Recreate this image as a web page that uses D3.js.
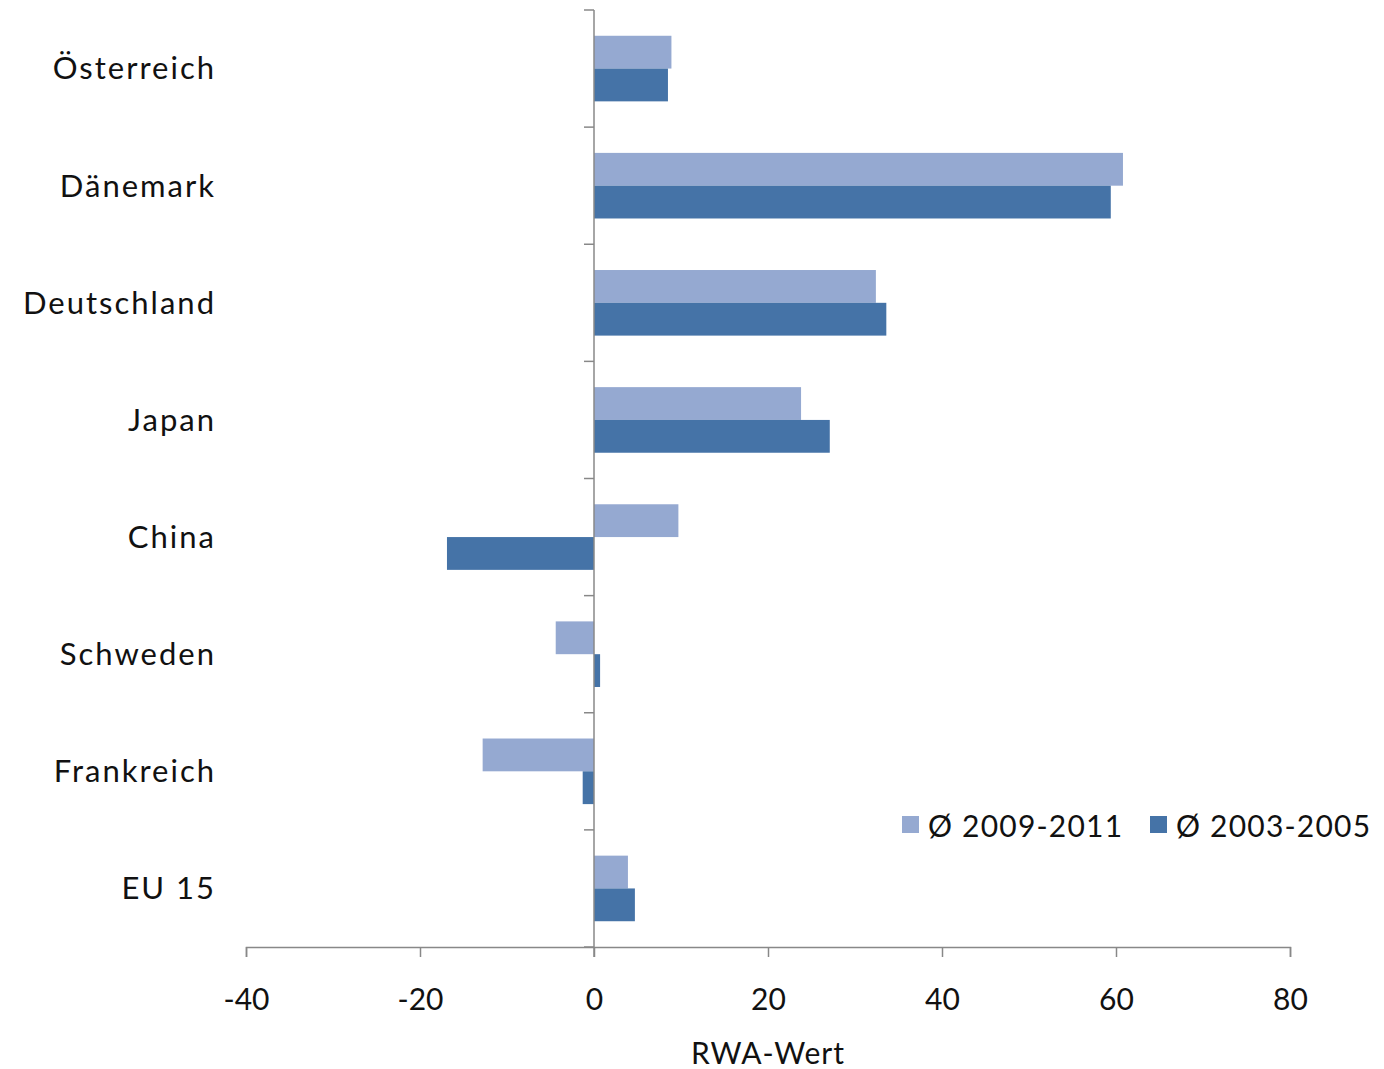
<!DOCTYPE html>
<html><head><meta charset="utf-8">
<script src="https://cdn.jsdelivr.net/npm/d3@7"></script>
<style>body{margin:0;background:#fff}svg{display:block}text{font-family:"Lato","Open Sans",sans-serif;fill:#111}</style>
</head><body><svg id="c" width="1384" height="1069"></svg>
<script>
const categories = ["Österreich","Dänemark","Deutschland","Japan","China","Schweden","Frankreich","EU 15"];
const series2009 = [8.9, 60.8, 32.4, 23.8, 9.7, -4.4, -12.8, 3.9];
const series2003 = [8.5, 59.4, 33.6, 27.1, -16.9, 0.7, -1.3, 4.7];
const seriesNames = ["Ø 2009-2011","Ø 2003-2005"];
const xTicks = [-40,-20,0,20,40,60,80];
const colors = ["#95A9D1","#4573A7"];

const svg = d3.select("#c");
const x = d3.scaleLinear().domain([-40,80]).range([246,1290]);
const y = d3.scaleBand().domain(categories).range([10,947]).paddingInner(0.44).paddingOuter(0.22);
const sub = d3.scaleBand().domain([0,1]).range([0,y.bandwidth()]);
const axisColor = "#888";

const data = categories.map((c,i)=>({c, v:[series2009[i],series2003[i]]}));
const g = svg.append("g");
data.forEach(d=>{
  d.v.forEach((v,k)=>{
    g.append("rect")
      .attr("x", x(Math.min(0,v)))
      .attr("width", Math.abs(x(v)-x(0)))
      .attr("y", y(d.c)+sub(k))
      .attr("height", sub.bandwidth())
      .attr("fill", colors[k]);
  });
});

// x axis
const xa = svg.append("g").attr("transform","translate(0,947)")
  .call(d3.axisBottom(x).tickValues(xTicks).tickSize(10).tickPadding(32).tickFormat(d=>String(d)));
xa.select(".domain").attr("stroke",axisColor).attr("stroke-width",1.5);
xa.selectAll(".tick line").attr("stroke",axisColor).attr("stroke-width",1.5);
xa.selectAll("text").attr("font-size",30).attr("fill","#111").style("font-family","Lato");

// y axis at 0
const yTickPos = d3.range(categories.length+1).map(i=>10+i*(937/categories.length));
const ya = svg.append("g");
ya.append("line").attr("x1",x(0)).attr("x2",x(0)).attr("y1",10).attr("y2",957).attr("stroke",axisColor).attr("stroke-width",1.5);
yTickPos.forEach(p=>ya.append("line").attr("x1",x(0)-10).attr("x2",x(0)).attr("y1",p).attr("y2",p).attr("stroke",axisColor).attr("stroke-width",1.5));

// category labels
svg.append("g").selectAll("text").data(categories).join("text")
  .attr("x",216).attr("y",d=>y(d)+y.bandwidth()/2)
  .attr("dy","0.35em").attr("text-anchor","end").attr("font-size",31)
  .attr("letter-spacing",2).text(d=>d);

// axis title
svg.append("text").attr("x",768).attr("y",1064).attr("text-anchor","middle").attr("font-size",30)
  .attr("letter-spacing",1).text("RWA-Wert");

// legend
const lx = [902,1150];
seriesNames.forEach((n,k)=>{
  svg.append("rect").attr("x",lx[k]).attr("y",816).attr("width",17).attr("height",17).attr("fill",colors[k]);
  svg.append("text").attr("x",lx[k]+26).attr("y",837).attr("font-size",30).attr("letter-spacing",1.2).text(n);
});
</script></body></html>
